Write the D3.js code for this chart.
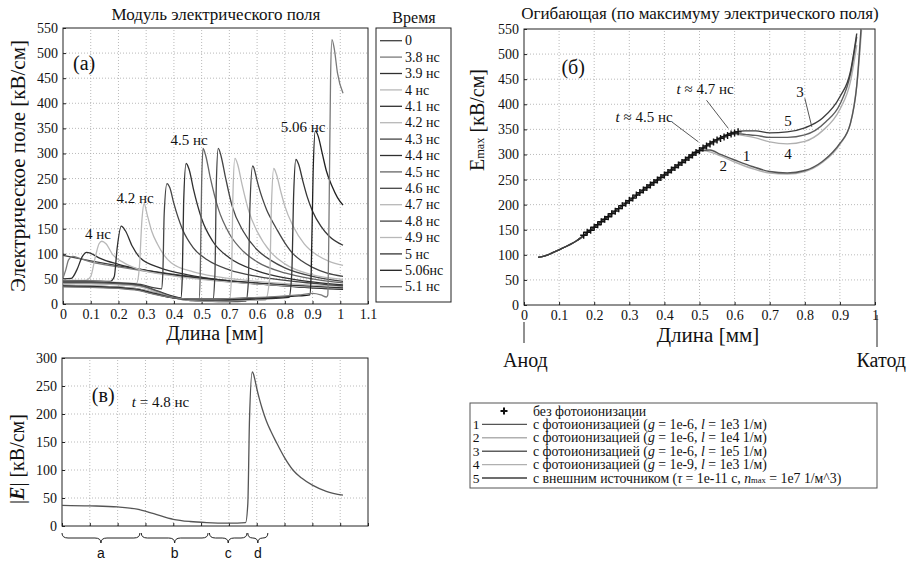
<!DOCTYPE html>
<html><head><meta charset="utf-8">
<script src="https://cdn.jsdelivr.net/npm/d3@7"></script>
<style>
body{margin:0;background:#fff}
svg{display:block}
</style></head>
<body><svg id="fig" width="908" height="563"></svg>
<script>
// ── Data: panel (a), field profiles |E|(x) for each time ─────────────────────
const timeLabels = ["0","3.8 нс","3.9 нс","4 нс","4.1 нс","4.2 нс","4.3 нс","4.4 нс","4.5 нс",
  "4.6 нс","4.7 нс","4.8 нс","4.9 нс","5 нс","5.06нс","5.1 нс"];
const fieldT0   = [[0,97],[0.1,86],[0.2,76],[0.3,67],[0.4,59],[0.5,52],[0.6,46],[0.7,41],[0.8,37],[0.9,33],[1.01,30]];
const fieldT38  = [[0,52],[0.01,68],[0.02,88],[0.035,95],[0.06,91],[0.1,84],[0.2,74],[0.3,65],[0.4,57],[0.5,50],[0.6,44],[0.7,40],[0.8,36],[0.9,32],[1.01,29]];
const fieldT39  = [[0,50],[0.03,51],[0.05,68],[0.07,95],[0.085,103],[0.1,101],[0.13,92],[0.2,79],[0.3,67],[0.4,58],[0.5,51],[0.6,45],[0.7,40],[0.8,36],[0.9,32],[1.01,29]];
const fieldT40  = [[0,48],[0.08,47],[0.1,55],[0.115,90],[0.13,120],[0.14,125],[0.155,120],[0.18,98],[0.22,82],[0.28,68],[0.35,60],[0.45,52],[0.55,46],[0.7,40],[0.85,35],[1.01,31]];
const fieldT41  = [[0,46],[0.1,46],[0.17,45],[0.185,55],[0.195,110],[0.21,155],[0.225,146],[0.25,115],[0.28,91],[0.35,72],[0.45,58],[0.57,48],[0.7,42],[0.85,37],[1.01,32]];
const fieldT42  = [[0,45],[0.1,45],[0.2,43],[0.265,41],[0.275,70],[0.285,170],[0.292,200],[0.305,175],[0.32,145],[0.34,120],[0.39,82],[0.47,64],[0.56,54],[0.7,45],[0.85,39],[1.01,35]];
const fieldT43  = [[0,44],[0.1,44],[0.2,42],[0.28,39],[0.33,32],[0.355,30],[0.36,60],[0.365,180],[0.375,240],[0.385,232],[0.4,200],[0.43,150],[0.47,112],[0.52,88],[0.6,68],[0.7,55],[0.85,44],[1.01,36]];
const fieldT44  = [[0,43],[0.1,43],[0.2,41],[0.28,37],[0.34,26],[0.4,15],[0.425,12],[0.43,50],[0.435,200],[0.444,280],[0.455,268],[0.47,230],[0.5,170],[0.54,125],[0.6,92],[0.7,66],[0.8,52],[0.9,44],[1.01,38]];
const fieldT45  = [[0,42],[0.1,42],[0.2,40],[0.28,36],[0.34,25],[0.4,13],[0.46,8],[0.49,7],[0.495,60],[0.5,240],[0.505,310],[0.515,295],[0.53,255],[0.56,190],[0.6,140],[0.65,105],[0.7,84],[0.8,62],[0.9,50],[1.01,42]];
const fieldT46  = [[0,41],[0.1,41],[0.2,39],[0.28,35],[0.34,24],[0.4,12],[0.46,7],[0.54,6],[0.548,60],[0.553,240],[0.56,310],[0.57,295],[0.585,255],[0.61,195],[0.65,145],[0.7,108],[0.75,87],[0.8,72],[0.9,55],[1.01,45]];
const fieldT47  = [[0,40],[0.1,40],[0.2,38],[0.28,34],[0.34,23],[0.4,12],[0.46,7],[0.55,5],[0.6,5],[0.608,60],[0.613,220],[0.62,290],[0.63,278],[0.645,240],[0.67,185],[0.7,145],[0.75,103],[0.8,80],[0.9,58],[1.01,49]];
const fieldT48  = [[0,37],[0.1,36],[0.2,34],[0.27,30],[0.33,22],[0.4,12],[0.46,8],[0.52,6],[0.6,5],[0.66,6],[0.668,40],[0.674,190],[0.684,275],[0.688,272],[0.694,260],[0.7,246],[0.71,226],[0.72,209],[0.735,187],[0.75,170],[0.77,150],[0.8,122],[0.83,100],[0.86,86],[0.9,73],[0.95,62],[1.01,55]];
const fieldT49  = [[0,37],[0.1,36],[0.2,34],[0.27,30],[0.33,22],[0.4,12],[0.46,8],[0.55,6],[0.65,7],[0.73,8],[0.745,50],[0.752,200],[0.76,270],[0.77,258],[0.785,225],[0.8,195],[0.83,155],[0.87,120],[0.92,96],[0.96,85],[1.01,77]];
const fieldT50  = [[0,36],[0.1,35],[0.2,33],[0.27,29],[0.33,21],[0.4,12],[0.46,9],[0.55,8],[0.65,9],[0.75,11],[0.815,13],[0.825,60],[0.832,220],[0.84,288],[0.85,278],[0.865,245],[0.88,215],[0.9,185],[0.93,155],[0.96,135],[1.01,117]];
const fieldT506 = [[0,35],[0.1,34],[0.2,32],[0.27,28],[0.33,20],[0.4,12],[0.46,10],[0.55,10],[0.65,11],[0.75,13],[0.85,16],[0.89,18],[0.895,60],[0.902,260],[0.91,345],[0.92,335],[0.935,300],[0.95,265],[0.97,235],[0.99,212],[1.01,197]];
const fieldT51  = [[0,34],[0.1,33],[0.2,31],[0.27,27],[0.33,19],[0.4,12],[0.46,10],[0.55,10],[0.65,12],[0.75,14],[0.85,18],[0.9,21],[0.93,18],[0.95,14],[0.955,18],[0.96,200],[0.965,450],[0.97,527],[0.978,510],[0.99,460],[1.01,420]];
const fieldProfiles = [fieldT0,fieldT38,fieldT39,fieldT40,fieldT41,fieldT42,fieldT43,fieldT44,fieldT45,
  fieldT46,fieldT47,fieldT48,fieldT49,fieldT50,fieldT506,fieldT51];
const timeColors = ["#404040","#7a7a7a","#303030","#b8b8b8","#303030","#b8b8b8","#454545","#303030","#666666",
  "#454545","#b8b8b8","#454545","#b8b8b8","#353535","#202020","#7a7a7a"];

const xTicksA = [0,0.1,0.2,0.3,0.4,0.5,0.6,0.7,0.8,0.9,1,1.1];
const xTickLabelsA = ["0","0.1","0.2","0.3","0.4","0.5","0.7","0.6","0.8","0.9","1","1.1"];
const yTicks550 = [0,50,100,150,200,250,300,350,400,450,500,550];

// ── Data: panel (б), envelope of the field maximum ───────────────────────────
const envBase  = [[0.04,95],[0.06,98],[0.1,110],[0.15,128],[0.2,155],[0.25,182],[0.3,208],[0.35,234],[0.4,259],[0.45,284],[0.5,308]];
const envCase1 = [[0.53,309],[0.56,300],[0.6,289],[0.65,276],[0.7,266],[0.75,263],[0.8,268],[0.85,286],[0.88,305],[0.9,322],[0.93,362],[0.948,437],[0.962,570]];
const envCase2 = [[0.52,307],[0.56,297],[0.6,285],[0.65,272],[0.7,263],[0.75,261],[0.8,266],[0.85,284],[0.9,320],[0.93,362],[0.95,450],[0.964,570]];
const envCase3 = [[0.55,330],[0.6,342],[0.63,340],[0.66,338],[0.7,334],[0.75,334],[0.8,339],[0.83,348],[0.86,365],[0.9,400],[0.93,460],[0.948,535]];
const envCase4 = [[0.55,329],[0.6,340],[0.63,337],[0.66,333],[0.7,325],[0.75,321],[0.8,326],[0.85,347],[0.9,390],[0.93,445],[0.948,518]];
const envCase5 = [[0.55,330],[0.6,345],[0.63,347],[0.66,347],[0.7,343],[0.75,345],[0.8,353],[0.85,372],[0.9,415],[0.93,465],[0.948,541]];
const noPhotoX = [0.17,0.18,0.19,0.2,0.21,0.22,0.23,0.24,0.25,0.26,0.27,0.28,0.29,0.3,0.31,0.32,0.33,0.34,0.35,0.36,0.37,0.38,0.39,0.4,
  0.41,0.42,0.43,0.44,0.45,0.46,0.47,0.48,0.49,0.5,0.51,0.52,0.53,0.54,0.55,0.56,0.57,0.58,0.59,0.6,0.61];
const noPhotoE = [139,145,149,155,160,166,171,176,182,187,192,198,203,208,213,219,224,229,234,239,244,249,254,259,
  264,269,274,279,284,289,294,299,304,308,313,317,321,325,329,332,335,338,341,343,345];
const xTicksB = [0,0.1,0.2,0.3,0.4,0.5,0.6,0.7,0.8,0.9,1];
const xTickLabelsB = ["0","0.1","0.2","0.3","0.4","0.5","0.6","0.7","0.8","0.9","1"];

// ── Data: panel (в), regions of the 4.8 нс profile ───────────────────────────
const yTicksC = [0,50,100,150,200,250,300];
const regionNames = ["a","b","c","d"];
const regionFrom  = [0, 0.285, 0.53, 0.668];
const regionTo    = [0.28, 0.525, 0.665, 0.74];

const SERIF = '"Liberation Serif","Times New Roman","DejaVu Serif",serif';
const svg = d3.select("#fig").attr("font-family", SERIF);
svg.append("rect").attr("width", 908).attr("height", 563).attr("fill", "#fff");
const mkLine = (x, y) => d3.line().x(d => x(d[0])).y(d => y(d[1])).curve(d3.curveMonotoneX);

// grid + frame + left/bottom axes
function panel(g, x, y, xTicks, yTicks, xLabels) {
  const [x0, x1] = x.range(), [y0, y1] = y.range();
  g.append("g").selectAll("line").data(xTicks.filter(t => x(t) > x0 + 1 && x(t) < x1 - 1)).join("line")
    .attr("x1", d => x(d)).attr("x2", d => x(d)).attr("y1", y0).attr("y2", y1)
    .attr("stroke", "#a8a8a8").attr("stroke-width", 0.8).attr("stroke-dasharray", "1,2");
  g.append("g").selectAll("line").data(yTicks.filter(t => y(t) < y0 - 1 && y(t) > y1 + 1)).join("line")
    .attr("x1", x0).attr("x2", x1).attr("y1", d => y(d)).attr("y2", d => y(d))
    .attr("stroke", "#a8a8a8").attr("stroke-width", 0.8).attr("stroke-dasharray", "1,2");
  const ya = g.append("g").attr("transform", `translate(${x0},0)`)
    .call(d3.axisLeft(y).tickValues(yTicks).tickSize(-3).tickSizeOuter(0).tickPadding(5));
  const xa = g.append("g").attr("transform", `translate(0,${y0})`)
    .call(d3.axisBottom(x).tickValues(xTicks).tickSize(-3).tickSizeOuter(0).tickPadding(5)
      .tickFormat((d, i) => xLabels ? xLabels[i] : ""));
  [ya, xa].forEach(a => {
    a.attr("font-family", SERIF).attr("font-size", 14);
    a.selectAll("text").attr("fill", "#111");
    a.select(".domain").remove();
    a.selectAll(".tick line").attr("stroke", "#222");
  });
  g.append("rect").attr("x", x0).attr("y", y1).attr("width", x1 - x0).attr("height", y0 - y1)
    .attr("fill", "none").attr("stroke", "#222").attr("stroke-width", 1);
}

function label(g, txt, x, y, size, anchor, rot) {
  const t = g.append("text").attr("font-family", SERIF).attr("font-size", size)
    .attr("text-anchor", anchor || "middle").attr("fill", "#111");
  if (rot) t.attr("transform", `translate(${x},${y}) rotate(-90)`);
  else t.attr("x", x).attr("y", y);
  if (typeof txt === "string") t.text(txt);
  else txt.forEach(p => {
    const s = t.append("tspan").text(p[0]);
    if (p[1] === "i") s.attr("font-style", "italic");
    if (p[1] === "bi") s.attr("font-style", "italic").attr("font-weight", "bold");
    if (p[1] === "sub") s.attr("font-size", size * 0.62);
  });
  return t;
}

// ── Panel (a) ────────────────────────────────────────────────────────────────
const xA = d3.scaleLinear().domain([0, 1.1]).range([63, 368]);
const yA = d3.scaleLinear().domain([0, 550]).range([304, 28]);
const gA = svg.append("g");
panel(gA, xA, yA, xTicksA, yTicks550, xTickLabelsA);
gA.append("g").selectAll("path").data(fieldProfiles).join("path")
  .attr("d", mkLine(xA, yA)).attr("fill", "none")
  .attr("stroke", (d, i) => timeColors[i]).attr("stroke-width", 1.3);
label(gA, "Модуль электрического поля", 216, 20, 17);
label(gA, "Длина [мм]", 215, 340, 20);
label(gA, "Электрическое поле [кВ/см]", 25, 166, 21, "middle", true);
label(gA, "(a)", xA(0.076), yA(466), 20);
label(gA, "4 нс", xA(0.126), yA(129), 15);
label(gA, "4.2 нс", xA(0.26), yA(201), 15);
label(gA, "4.5 нс", xA(0.455), yA(317), 15);
label(gA, "5.06 нс", xA(0.866), yA(343), 15);

// legend of (a)
const legA = svg.append("g");
legA.append("rect").attr("x", 376).attr("y", 28).attr("width", 75).attr("height", 274)
  .attr("fill", "#fff").attr("stroke", "#222");
label(legA, "Время", 414, 23, 16);
const rowA = legA.selectAll("g.row").data(timeLabels).join("g").attr("class", "row")
  .attr("transform", (d, i) => `translate(0,${40.7 + i * 16.4})`);
rowA.append("line").attr("x1", 380).attr("x2", 402)
  .attr("stroke", (d, i) => timeColors[i]).attr("stroke-width", 1.3);
rowA.append("text").attr("x", 405).attr("dy", "0.33em").attr("font-family", SERIF)
  .attr("font-size", 14).attr("fill", "#111").text(d => d);

// ── Panel (б) ────────────────────────────────────────────────────────────────
const xB = d3.scaleLinear().domain([0, 1]).range([524, 875]);
const yB = d3.scaleLinear().domain([0, 550]).range([305, 29]);
const gB = svg.append("g");
panel(gB, xB, yB, xTicksB, yTicks550, xTickLabelsB);
svg.append("clipPath").attr("id", "clipB").append("rect")
  .attr("x", 524).attr("y", 29).attr("width", 351).attr("height", 276);
const envCases = [envCase2, envCase4, envCase1, envCase3, envCase5];
const envColors = ["#b0b0b0", "#b0b0b0", "#555555", "#5e5e5e", "#3c3c3c"];
gB.append("g").attr("clip-path", "url(#clipB)").selectAll("path").data(envCases).join("path")
  .attr("d", d => mkLine(xB, yB)(envBase.concat(d))).attr("fill", "none")
  .attr("stroke", (d, i) => envColors[i]).attr("stroke-width", 1.4);
gB.append("g").selectAll("path").data(noPhotoX).join("path")
  .attr("transform", (d, i) => `translate(${xB(d)},${yB(noPhotoE[i])})`)
  .attr("d", "M-3.5,0H3.5M0,-3.5V3.5").attr("stroke", "#111").attr("stroke-width", 1.4);
label(gB, "Огибающая (по максимуму электрического поля)", 700, 19, 17);
label(gB, "Длина [мм]", 708, 342, 21);
label(gB, [["E"], ["max", "sub"], [" [кВ/см]"]], 484, 120, 20, "middle", true);
label(gB, "(б)", xB(0.14), yB(460), 20);
label(gB, [["t", "i"], [" ≈ 4.7 нс"]], xB(0.516), yB(420), 15);
label(gB, [["t", "i"], [" ≈ 4.5 нс"]], xB(0.342), yB(365), 15);
[["3", 0.786, 414], ["5", 0.752, 357], ["4", 0.752, 291], ["1", 0.634, 287], ["2", 0.568, 267]]
  .forEach(a => label(gB, a[0], xB(a[1]), yB(a[2]), 15));
const leaders = [[[0.52, 408], [0.582, 352]], [[0.421, 365], [0.497, 325]], [[0.8, 412], [0.82, 355]]];
gB.append("g").selectAll("line").data(leaders).join("line")
  .attr("x1", d => xB(d[0][0])).attr("y1", d => yB(d[0][1]))
  .attr("x2", d => xB(d[1][0])).attr("y2", d => yB(d[1][1]))
  .attr("stroke", "#444").attr("stroke-width", 0.9);
// electrode marks
gB.append("line").attr("x1", xB(0)).attr("x2", xB(0)).attr("y1", 322).attr("y2", 343).attr("stroke", "#222");
gB.append("line").attr("x1", xB(1) + 2).attr("x2", xB(1) + 2).attr("y1", 315).attr("y2", 347).attr("stroke", "#222");
label(gB, "Анод", 503, 367, 20, "start");
label(gB, "Катод", 906, 367, 20, "end");

// ── Panel (в) ────────────────────────────────────────────────────────────────
const xC = d3.scaleLinear().domain([0, 1.1]).range([62, 368]);
const yC = d3.scaleLinear().domain([0, 300]).range([526, 358]);
const gC = svg.append("g");
panel(gC, xC, yC, xTicksA, yTicksC, null);
gC.append("path").datum(fieldT48).attr("d", mkLine(xC, yC)).attr("fill", "none")
  .attr("stroke", "#555").attr("stroke-width", 1.3);
label(gC, [["|"], ["E", "bi"], ["| [кВ/см]"]], 24, 459, 20, "middle", true);
label(gC, "(в)", xC(0.148), yC(221), 20);
label(gC, [["t", "i"], [" = 4.8 нс"]], xC(0.354), yC(212), 15);
function brace(a, b, y0, h) {
  const m = (a + b) / 2, q = Math.min(6, (b - a) / 4);
  return `M${a},${y0} Q${a},${y0 + h / 2} ${a + q},${y0 + h / 2} L${m - q},${y0 + h / 2} ` +
    `Q${m},${y0 + h / 2} ${m},${y0 + h} Q${m},${y0 + h / 2} ${m + q},${y0 + h / 2} ` +
    `L${b - q},${y0 + h / 2} Q${b},${y0 + h / 2} ${b},${y0}`;
}
const gBr = gC.append("g").selectAll("g").data(regionNames).join("g");
gBr.append("path").attr("d", (d, i) => brace(xC(regionFrom[i]), xC(regionTo[i]), 533, 10))
  .attr("fill", "none").attr("stroke", "#222").attr("stroke-width", 1);
gBr.append("text").attr("x", (d, i) => xC((regionFrom[i] + regionTo[i]) / 2)).attr("y", 558)
  .attr("text-anchor", "middle").attr("font-family", '"Liberation Sans",Arial,sans-serif')
  .attr("font-size", 14).attr("fill", "#111").text(d => d);

// ── Legend of (б) ────────────────────────────────────────────────────────────
const legRows = [
  [["без фотоионизации"]],
  [["с фотоионизацией ("], ["g", "i"], [" = 1e-6, "], ["l", "i"], [" = 1e3 1/м)"]],
  [["с фотоионизацией ("], ["g", "i"], [" = 1e-6, "], ["l", "i"], [" = 1e4 1/м)"]],
  [["с фотоионизацией ("], ["g", "i"], [" = 1e-6, "], ["l", "i"], [" = 1e5 1/м)"]],
  [["с фотоионизацией ("], ["g", "i"], [" = 1e-9, "], ["l", "i"], [" = 1e3 1/м)"]],
  [["с внешним источником ("], ["τ", "i"], [" = 1e-11 с, "], ["n", "i"], ["max", "sub"], [" = 1e7 1/м^3)"]]
];
const legNums = ["", "1", "2", "3", "4", "5"];
const legColors = ["#111", "#555555", "#b0b0b0", "#5e5e5e", "#b0b0b0", "#3c3c3c"];
const legB = svg.append("g");
legB.append("rect").attr("x", 470).attr("y", 403).attr("width", 407).attr("height", 85)
  .attr("fill", "#fff").attr("stroke", "#555");
legRows.forEach((r, i) => {
  const y = 411 + i * 13.4;
  if (i === 0) legB.append("path").attr("transform", `translate(504,${y})`)
    .attr("d", "M-3.5,0H3.5M0,-3.5V3.5").attr("stroke", "#111").attr("stroke-width", 2);
  else legB.append("line").attr("x1", 482).attr("x2", 527).attr("y1", y).attr("y2", y)
    .attr("stroke", legColors[i]).attr("stroke-width", 1.4);
  label(legB, legNums[i], 476, y + 4.5, 13.5);
  label(legB, r, 533, y + 4.5, 13.8, "start");
});
</script>
</body></html>
